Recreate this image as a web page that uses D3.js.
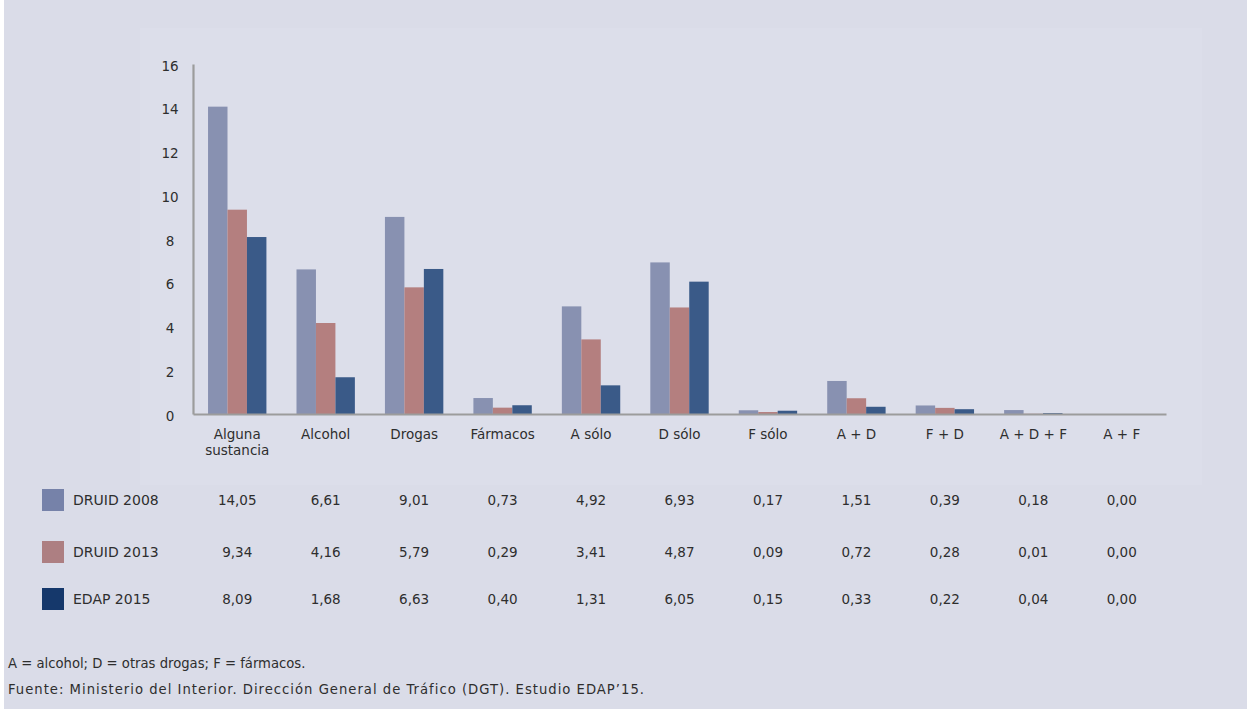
<!DOCTYPE html>
<html>
<head>
<meta charset="utf-8">
<script src="https://cdn.jsdelivr.net/npm/d3@7"></script>
<style>
  html, body { margin: 0; padding: 0; background: #ffffff; }
  svg { display: block; }
  text { font-family: "DejaVu Sans", Lato, sans-serif; fill: #2e2e2e; }
</style>
</head>
<body>
<svg id="chart" width="1247" height="709"></svg>
<script>
// Categories and series values (% of drivers)
const categories = ["Alguna sustancia", "Alcohol", "Drogas", "Fármacos", "A sólo", "D sólo",
                    "F sólo", "A + D", "F + D", "A + D + F", "A + F"];
const seriesNames = ["DRUID 2008", "DRUID 2013", "EDAP 2015"];
const druid2008 = [14.05, 6.61, 9.01, 0.73, 4.92, 6.93, 0.17, 1.51, 0.39, 0.18, 0.00];
const druid2013 = [9.34, 4.16, 5.79, 0.29, 3.41, 4.87, 0.09, 0.72, 0.28, 0.01, 0.00];
const edap2015  = [8.09, 1.68, 6.63, 0.40, 1.31, 6.05, 0.15, 0.33, 0.22, 0.04, 0.00];
const yTicks = [0, 2, 4, 6, 8, 10, 12, 14, 16];
const notes = [
  "A = alcohol; D = otras drogas; F = fármacos.",
  "Fuente: Ministerio del Interior. Dirección General de Tráfico (DGT). Estudio EDAP’15."
];

const series = [druid2008, druid2013, edap2015];
const barColors = ["#8891b1", "#b47f7f", "#3a5a88"];
const legendColors = ["#7682a9", "#ad7f82", "#15386b"];

const svg = d3.select("#chart");

// page background and lighter chart panel
svg.append("rect").attr("width", 1247).attr("height", 709).attr("fill", "#dadce8");
svg.append("rect").attr("width", 4).attr("height", 709).attr("fill", "#ffffff");
svg.append("rect").attr("x", 140).attr("y", 28).attr("width", 1062).attr("height", 457)
   .attr("fill", "#dcdeea");

const x0 = 193, x1 = 1166, yTop = 64, yBase = 414;

const x = d3.scaleBand().domain(categories).range([x0, x1]).paddingInner(0).paddingOuter(0);
const xi = d3.scaleBand().domain(d3.range(series.length))
  .range([x.bandwidth() * 0.17, x.bandwidth() * 0.83]).padding(0);
const y = d3.scaleLinear().domain([0, 16]).range([yBase, yTop]);

// bars
const groups = svg.append("g").selectAll("g").data(categories).join("g")
  .attr("transform", d => `translate(${x(d)},0)`);
groups.selectAll("rect")
  .data((d, i) => series.map((s, k) => ({ k, v: s[i] })))
  .join("rect")
  .attr("x", d => xi(d.k))
  .attr("width", xi.bandwidth())
  .attr("y", d => y(d.v))
  .attr("height", d => yBase - y(d.v))
  .attr("fill", d => barColors[d.k]);

// y axis
const yAxis = svg.append("g").attr("transform", `translate(${x0},0)`)
  .call(d3.axisLeft(y).tickValues(yTicks).tickSize(0).tickPadding(16).tickFormat(d3.format("d")));
yAxis.select(".domain").attr("stroke", "#9c9c9c").attr("stroke-width", 2.2);
yAxis.selectAll("text").style("font-size", "13.5px").attr("fill", "#2e2e2e")
  .attr("text-anchor", "middle").attr("dx", "-7").attr("dy", "0.45em");

// x axis
const xAxis = svg.append("g").attr("transform", `translate(0,${yBase})`)
  .call(d3.axisBottom(x).tickSize(0).tickPadding(15));
xAxis.select(".domain").attr("stroke", "#9c9c9c").attr("stroke-width", 2.2);
xAxis.selectAll("text").style("font-size", "13.5px").attr("fill", "#2e2e2e")
  .each(function (d) {
    const words = d === "Alguna sustancia" ? ["Alguna", "sustancia"] : [d];
    const t = d3.select(this).text(null);
    words.forEach((w, i) => t.append("tspan").attr("x", 0).attr("dy", i === 0 ? "0.71em" : "1.2em").text(w));
  });

// data table with legend keys
const rowY = [500, 552, 599];
const fmt = v => d3.format(".2f")(v).replace(".", ",");
const table = svg.append("g");
seriesNames.forEach((name, k) => {
  table.append("rect").attr("x", 42).attr("y", rowY[k] - 11).attr("width", 22).attr("height", 22)
    .attr("fill", legendColors[k]);
  table.append("text").attr("x", 73).attr("y", rowY[k] + 5).style("font-size", "14px").text(name);
  series[k].forEach((v, i) => {
    table.append("text")
      .attr("x", x(categories[i]) + x.bandwidth() / 2)
      .attr("y", rowY[k] + 5)
      .attr("text-anchor", "middle")
      .style("font-size", "13.5px")
      .text(fmt(v));
  });
});

// footnotes
svg.append("text").attr("x", 8).attr("y", 668).style("font-size", "13.2px").text(notes[0]);
svg.append("text").attr("x", 8).attr("y", 694).style("font-size", "13.2px")
  .style("letter-spacing", "1px").text(notes[1]);
</script>
</body>
</html>
